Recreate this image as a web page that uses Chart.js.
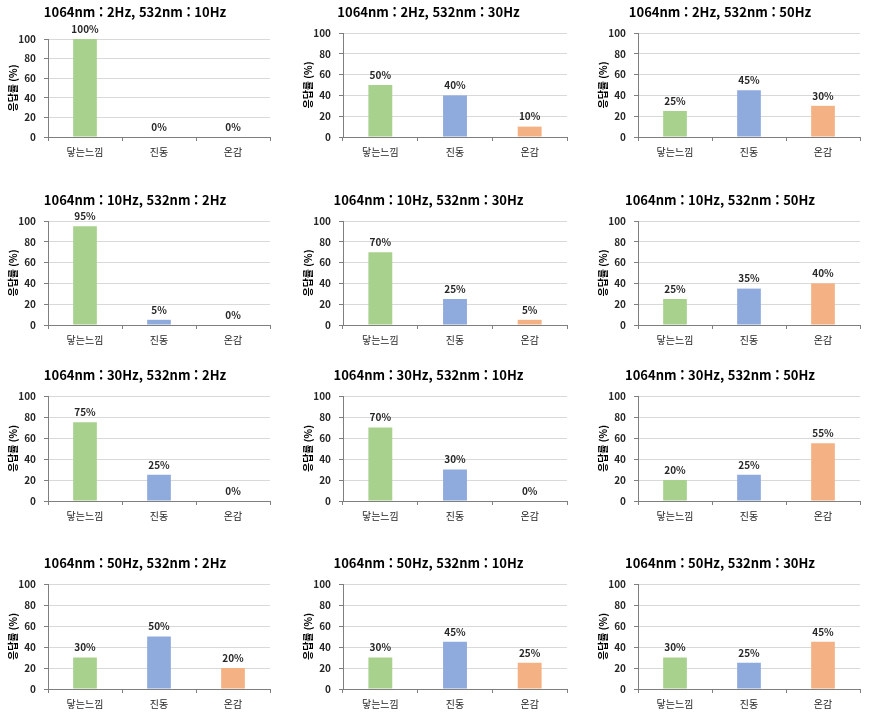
<!DOCTYPE html>
<html lang="ko">
<head>
<meta charset="utf-8">
<title>응답률</title>
<script src="https://cdn.jsdelivr.net/npm/chart.js@4.4.1/dist/chart.umd.min.js"></script>
<style>
  body { margin: 0; background: #fff; }
  #grid { position: relative; width: 869px; height: 717px; overflow: hidden; }
  #grid canvas { position: absolute; }
</style>
</head>
<body>
<div id="grid"></div>
<script>
const categories = ['닿는느낌', '진동', '온감'];
const hz1064 = [2, 2, 2, 10, 10, 10, 30, 30, 30, 50, 50, 50];
const hz532 = [10, 30, 50, 2, 30, 50, 2, 10, 50, 2, 10, 30];
const touchValues = [100, 50, 25, 95, 70, 25, 75, 70, 20, 30, 30, 30];
const vibrationValues = [0, 40, 45, 5, 25, 35, 25, 30, 25, 50, 45, 25];
const warmthValues = [0, 10, 30, 0, 5, 40, 0, 0, 55, 20, 25, 45];
const yTicks = [0, 20, 40, 60, 80, 100];
const barColors = ['#a9d18e', '#8faadc', '#f4b183'];

// grid layout (pixels)
const colLeft = [0, 290, 580];
const colWidth = [285, 290, 289];
const colAxis = [48, 53, 58];
const colPadRight = [15, 13, 9];
const rowPlotTop = [33, 221, 396, 584];
const rowPlotBottom = [137, 325, 501, 689];
const FONT = "'Noto Sans CJK KR', 'Noto Sans', sans-serif";

// percent labels above bars
const valueLabels = {
    id: 'valueLabels',
    afterDatasetsDraw(chart) {
        const ctx = chart.ctx;
        const meta = chart.getDatasetMeta(0);
        ctx.save();
        ctx.font = 'bold 10px ' + FONT;
        ctx.fillStyle = '#262626';
        ctx.textAlign = 'center';
        ctx.textBaseline = 'middle';
        meta.data.forEach((bar, j) => {
            const v = chart.data.datasets[0].data[j];
            ctx.fillText(v + '%', bar.x, bar.y - 10);
        });
        ctx.restore();
    }
};

const grid = document.getElementById('grid');

for (let i = 0; i < 12; i++) {
    const r = Math.floor(i / 3);
    const c = i % 3;
    const values = [touchValues[i], vibrationValues[i], warmthValues[i]];
    const titleBlock = 33 + (Math.max(...values) >= 100 ? 6 : 0);
    const top = rowPlotTop[r] - 33;
    const height = rowPlotBottom[r] - top + 28;

    const canvas = document.createElement('canvas');
    canvas.width = colWidth[c];
    canvas.height = height;
    canvas.style.left = colLeft[c] + 'px';
    canvas.style.top = top + 'px';
    grid.appendChild(canvas);

    new Chart(canvas, {
        type: 'bar',
        data: {
            labels: categories,
            datasets: [{
                data: values,
                backgroundColor: barColors,
                barPercentage: 0.32,
                categoryPercentage: 1
            }]
        },
        plugins: [valueLabels],
        options: {
            responsive: false,
            animation: false,
            layout: { padding: { left: 0, right: colPadRight[c], top: 0, bottom: 0 } },
            plugins: {
                legend: { display: false },
                tooltip: { enabled: false },
                title: {
                    display: true,
                    text: `1064nm : ${hz1064[i]}Hz, 532nm : ${hz532[i]}Hz`,
                    color: '#000',
                    font: { family: FONT, size: 13, weight: 'bold', lineHeight: 1.2 },
                    padding: { top: 4.5, bottom: titleBlock - 4.5 - 15.6 }
                }
            },
            scales: {
                x: {
                    afterFit: s => { s.height = 28; },
                    ticks: { font: { family: FONT, size: 10 }, color: '#262626', padding: 5 },
                    grid: { drawOnChartArea: false, tickLength: 4, color: '#7f7f7f', offset: true },
                    border: { color: '#7f7f7f' }
                },
                y: {
                    min: 0,
                    max: 100,
                    afterBuildTicks: s => { s.ticks = yTicks.map(v => ({ value: v })); },
                    afterFit: s => { s.width = colAxis[c]; },
                    ticks: { font: { family: FONT, size: 10, weight: 'bold' }, color: '#262626', padding: 8 },
                    grid: { color: '#d9d9d9', tickLength: 4, tickColor: '#7f7f7f' },
                    border: { color: '#7f7f7f' },
                    title: {
                        display: true,
                        text: '응답률 (%)',
                        color: '#000',
                        font: { family: FONT, size: 10, weight: 'bold' },
                        padding: { top: colAxis[c] - 41, bottom: 0 }
                    }
                }
            }
        }
    });
}
</script>
</body>
</html>
